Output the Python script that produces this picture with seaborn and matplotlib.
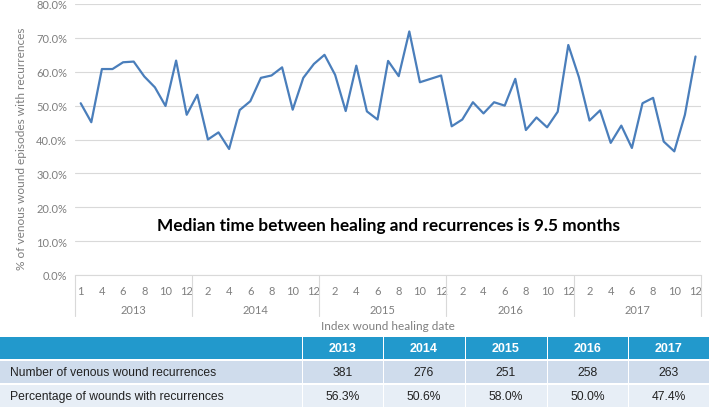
import matplotlib
matplotlib.use("Agg")
import matplotlib.pyplot as plt
from matplotlib.patches import Rectangle
from matplotlib.ticker import FuncFormatter
import numpy as np
import pandas as pd
import seaborn as sns

# monthly data (2013 has no February entry)
years = ["2013", "2014", "2015", "2016", "2017"]
months_2013 = [1, 3, 4, 5, 6, 7, 8, 9, 10, 11, 12]
months_full = list(range(1, 13))

rate_2013 = [50.7, 45.1, 60.8, 60.8, 62.8, 63.0, 58.6, 55.4, 49.9, 63.3, 47.3]
rate_2014 = [53.2, 40.0, 42.1, 37.2, 48.7, 51.3, 58.2, 58.9, 61.3, 48.8, 58.2, 62.3]
rate_2015 = [65.0, 59.1, 48.4, 61.8, 48.3, 45.9, 63.2, 58.7, 71.9, 56.9, 57.9, 58.9]
rate_2016 = [43.9, 45.9, 51.0, 47.7, 51.0, 50.0, 57.9, 42.8, 46.5, 43.6, 48.2, 67.9]
rate_2017 = [58.4, 45.6, 48.6, 39.0, 44.1, 37.5, 50.7, 52.3, 39.4, 36.5, 47.3, 64.5]

# summary table
table_rows = ["Number of venous wound recurrences",
              "Percentage of wounds with recurrences"]
recurrences = [381, 276, 251, 258, 263]
pct_recurrences = [56.3, 50.6, 58.0, 50.0, 47.4]

sns.set_theme(style="white")
plt.rcParams["font.family"] = ["Lato", "DejaVu Sans"]

months_by_year = [months_2013, months_full, months_full, months_full, months_full]
rates_by_year = [rate_2013, rate_2014, rate_2015, rate_2016, rate_2017]
rows = []
for yr, ms, rs in zip(years, months_by_year, rates_by_year):
    for m, r in zip(ms, rs):
        rows.append({"year": yr, "month": m, "rate": r})
df = pd.DataFrame(rows)
df["pos"] = np.arange(len(df))

W, H = 709, 410
fig = plt.figure(figsize=(W / 100, H / 100), dpi=100)

# plot area in pixels
px_left, px_right, px_top, px_bottom = 75.4, 700.8, 5, 276
ax = fig.add_axes([px_left / W, 1 - px_bottom / H,
                   (px_right - px_left) / W, (px_bottom - px_top) / H])

grey_txt = "#7f7f7f"
grid_col = "#d9d9d9"

sns.lineplot(data=df, x="pos", y="rate", ax=ax, color="#4a7ebb", linewidth=1.6)

ax.set_xlim(-0.5, len(df) - 0.5)
ax.set_ylim(0, 80)
ax.set_yticks(np.arange(0, 81, 10))
ax.yaxis.set_major_formatter(FuncFormatter(lambda v, p: f"{v:.1f}%"))
ax.grid(axis="y", color=grid_col, linewidth=0.8)
ax.set_axisbelow(True)
for s in ["top", "right", "left"]:
    ax.spines[s].set_visible(False)
ax.spines["bottom"].set_color(grid_col)
ax.spines["bottom"].set_linewidth(0.8)

even = df["pos"].values[::2]
ax.set_xticks(even)
ax.set_xticklabels([str(m) for m in df["month"].values[::2]])
ax.tick_params(axis="x", length=0, pad=7, labelsize=8, labelcolor=grey_txt)
ax.tick_params(axis="y", length=0, pad=6, labelsize=8, labelcolor=grey_txt)
ax.set_xlabel("")
ax.set_ylabel("% of venous wound episodes with recurrences", fontsize=8.6,
              color=grey_txt)
ax.yaxis.set_label_coords((27 - px_left) / (px_right - px_left), 0.47)

# year groups below the month labels
trans = ax.get_xaxis_transform()
plot_h = px_bottom - px_top
counts = df.groupby("year", sort=False).size().values
bounds = np.concatenate([[0], np.cumsum(counts)]) - 0.5
for b in bounds:
    ax.plot([b, b], [0, -41 / plot_h], transform=trans, color=grid_col,
            linewidth=0.8, clip_on=False)
for yr, lo, hi in zip(years, bounds[:-1], bounds[1:]):
    ax.text((lo + hi) / 2, -35 / plot_h, yr, transform=trans, ha="center",
            va="center", fontsize=8, color=grey_txt)

ax.text(0.5, -50 / plot_h, "Index wound healing date", transform=ax.transAxes,
        ha="center", va="center", fontsize=8.5, color=grey_txt)

ax.text(0.5, (px_bottom - 226) / plot_h,
        "Median time between healing and recurrences is 9.5 months",
        transform=ax.transAxes, ha="center", va="center", fontsize=12.4,
        fontweight="bold", color="black")

# table underneath
tab = fig.add_axes([0, 0, 1, 72 / H])
tab.set_xlim(0, W)
tab.set_ylim(72, 0)
tab.axis("off")

col_edges = [0, 302, 383, 465, 547, 628, W]
row_edges = [(0, 22), (24, 46), (48, 70)]
row_colors = ["#2299cc", "#cfdcec", "#e7eef6"]
tab_font = ["Liberation Sans", "DejaVu Sans"]

cells = [[""] + years,
         [table_rows[0]] + [str(v) for v in recurrences],
         [table_rows[1]] + [f"{v:.1f}%" for v in pct_recurrences]]

for ri, ((y0, y1), col) in enumerate(zip(row_edges, row_colors)):
    for ci in range(len(col_edges) - 1):
        x0, x1 = col_edges[ci], col_edges[ci + 1]
        gap = 1 if ci > 0 else 0
        tab.add_patch(Rectangle((x0 + gap, y0), x1 - x0 - gap, y1 - y0,
                                facecolor=col, edgecolor="none"))
        txt = cells[ri][ci]
        if not txt:
            continue
        yc = (y0 + y1) / 2
        if ri == 0:
            tab.text((x0 + x1) / 2, yc, txt, ha="center", va="center",
                     fontsize=9, fontweight="bold", color="white",
                     family=tab_font)
        elif ci == 0:
            tab.text(x0 + 10, yc, txt, ha="left", va="center", fontsize=8.7,
                     color="#222222", family=tab_font)
        else:
            tab.text((x0 + x1) / 2, yc, txt, ha="center", va="center",
                     fontsize=8.7, color="#222222", family=tab_font)

fig.savefig("out.png", dpi=100)
